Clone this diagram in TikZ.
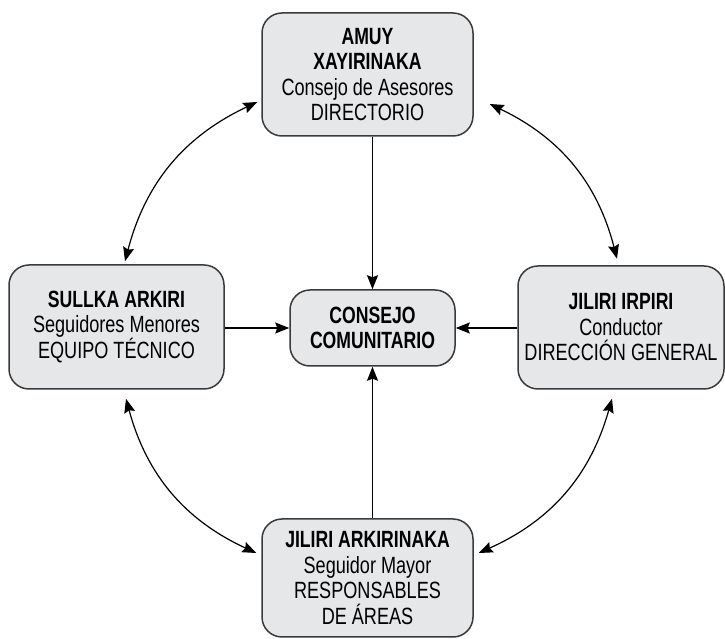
\documentclass[tikz,border=0pt]{standalone}
\usepackage{fontspec}
\setmainfont{Liberation Sans}[FakeStretch=0.77, BoldFeatures={FakeStretch=0.75}]
\usetikzlibrary{arrows.meta,calc}
\definecolor{boxfill}{HTML}{E6E7E8}
\definecolor{boxline}{HTML}{3A3A3A}
\tikzset{
  orgbox/.style={draw=boxline, fill=boxfill, line width=1.5pt, rounded corners=20pt,
    align=center, inner sep=0pt, font=\fontsize{23.5}{25.5}\selectfont},
  arr/.style={line width=1.2pt, -{Stealth[length=14pt,width=11pt,inset=2pt]}},
  darr/.style={line width=1.2pt, {Stealth[length=14pt,width=11pt,inset=2pt]}-{Stealth[length=14pt,width=11pt,inset=2pt]}}
}
\begin{document}
\begin{tikzpicture}[x=1pt,y=1pt]
\useasboundingbox (0,0) rectangle (725,639);
\node[orgbox, minimum width=211pt, minimum height=123pt] (top) at (367.5,564.5)
  {\textbf{AMUY}\\\textbf{XAYIRINAKA}\\Consejo de Asesores\\DIRECTORIO};
\node[orgbox, minimum width=215pt, minimum height=124pt] (left) at (116.5,312)
  {\textbf{SULLKA ARKIRI}\\Seguidores Menores\\EQUIPO TÉCNICO};
\node[orgbox, minimum width=206pt, minimum height=123pt] (right) at (621,311.5)
  {\textbf{JILIRI IRPIRI}\\Conductor\\DIRECCIÓN GENERAL};
\node[orgbox, minimum width=165pt, minimum height=76pt] (c) at (372.5,311)
  {\textbf{CONSEJO}\\\textbf{COMUNITARIO}};
\node[orgbox, minimum width=211pt, minimum height=118pt] (bottom) at (367.5,61)
  {\textbf{JILIRI ARKIRINAKA}\\Seguidor Mayor\\RESPONSABLES\\DE ÁREAS};
% straight arrows
\draw[arr] (top.south -| c.north) -- (c.north);
\draw[arr] (left.east |- c.west) -- (c.west);
\draw[arr] (right.west |- c.east) -- (c.east);
\draw[arr] (bottom.north -| c.south) -- (c.south);
% curved arrows
\draw[darr] ($(top.west)+(-4,-27.5)$) to[bend right=25] ($(left.north)+(8.5,3)$);
\draw[darr] ($(top.east)+(16,-29.5)$) to[bend left=25] ($(right.north)+(-4,6.5)$);
\draw[darr] ($(left.south)+(9.5,-9)$) to[bend right=25] ($(bottom.west)+(-5,25)$);
\draw[darr] ($(right.south)+(-9,-9)$) to[bend left=25] ($(bottom.east)+(5,25)$);
\end{tikzpicture}
\end{document}
